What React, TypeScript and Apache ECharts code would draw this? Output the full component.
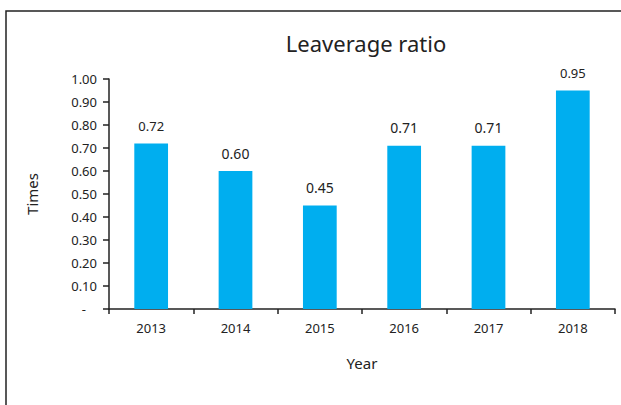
import React, { useEffect, useRef } from "react";
import * as echarts from "echarts";

const categories = ["2013", "2014", "2015", "2016", "2017", "2018"];
const values = [0.72, 0.6, 0.45, 0.71, 0.71, 0.95];
const labelSizes = [13, 14, 14, 14, 14, 13];
const yTicks = [0, 0.1, 0.2, 0.3, 0.4, 0.5, 0.6, 0.7, 0.8, 0.9, 1.0];

const FONT = "'Noto Sans', sans-serif";

export default function App() {
  const ref = useRef<HTMLDivElement>(null);
  useEffect(() => {
    if (!ref.current) return;
    const chart = echarts.init(ref.current, null, { renderer: "svg" });
    chart.setOption({
      animation: false,
      textStyle: { fontFamily: FONT, color: "#222" },
      title: {
        text: "Leaverage ratio",
        left: 361,
        top: 27,
        textAlign: "center",
        textStyle: { fontFamily: FONT, fontSize: 22, fontWeight: "normal", color: "#222" },
      },
      graphic: [
        {
          type: "rect",
          shape: { x: 6, y: 11, width: 700, height: 500 },
          style: { fill: "none", stroke: "#222", lineWidth: 1.5 },
          silent: true,
          z: -1,
        },
      ],
      grid: { left: 109, top: 79, right: 6, bottom: 96, containLabel: false },
      xAxis: {
        type: "category",
        data: categories,
        name: "Year",
        nameLocation: "middle",
        nameGap: 46,
        nameTextStyle: { fontFamily: FONT, fontSize: 15, color: "#222" },
        axisLine: { lineStyle: { color: "#222", width: 1.5 } },
        axisTick: { show: true, length: 5, lineStyle: { color: "#222", width: 1.5 } },
        axisLabel: { fontFamily: FONT, fontSize: 13, color: "#222", margin: 12 },
      },
      yAxis: {
        type: "value",
        min: yTicks[0],
        max: yTicks[yTicks.length - 1],
        interval: 0.1,
        name: "Times",
        nameLocation: "middle",
        nameGap: 70,
        nameRotate: 90,
        nameTextStyle: { fontFamily: FONT, fontSize: 15, color: "#222" },
        axisLine: { show: true, lineStyle: { color: "#222", width: 1.5 } },
        axisTick: { show: true, length: 6, lineStyle: { color: "#222", width: 1.5 } },
        splitLine: { show: false },
        axisLabel: {
          fontFamily: FONT,
          fontSize: 13,
          color: "#222",
          margin: 12,
          formatter: (v: number) => (Math.abs(v) < 1e-9 ? "{dash|-}" : v.toFixed(2)),
          rich: { dash: { fontFamily: FONT, fontSize: 13, color: "#222", padding: [0, 11, 0, 0] } },
        },
      },
      series: [
        {
          type: "bar",
          barWidth: "40%",
          itemStyle: { color: "#00AEEF" },
          data: values.map((v, i) => ({
            value: v,
            label: { fontSize: labelSizes[i] },
          })),
          label: {
            show: true,
            position: "top",
            distance: 11,
            fontFamily: FONT,
            color: "#222",
            formatter: (p: any) => Number(p.value).toFixed(2),
          },
        },
      ],
    });
    return () => chart.dispose();
  }, []);
  return <div ref={ref} style={{ width: 621, height: 405, position: "absolute", left: 0, top: 0 }} />;
}
